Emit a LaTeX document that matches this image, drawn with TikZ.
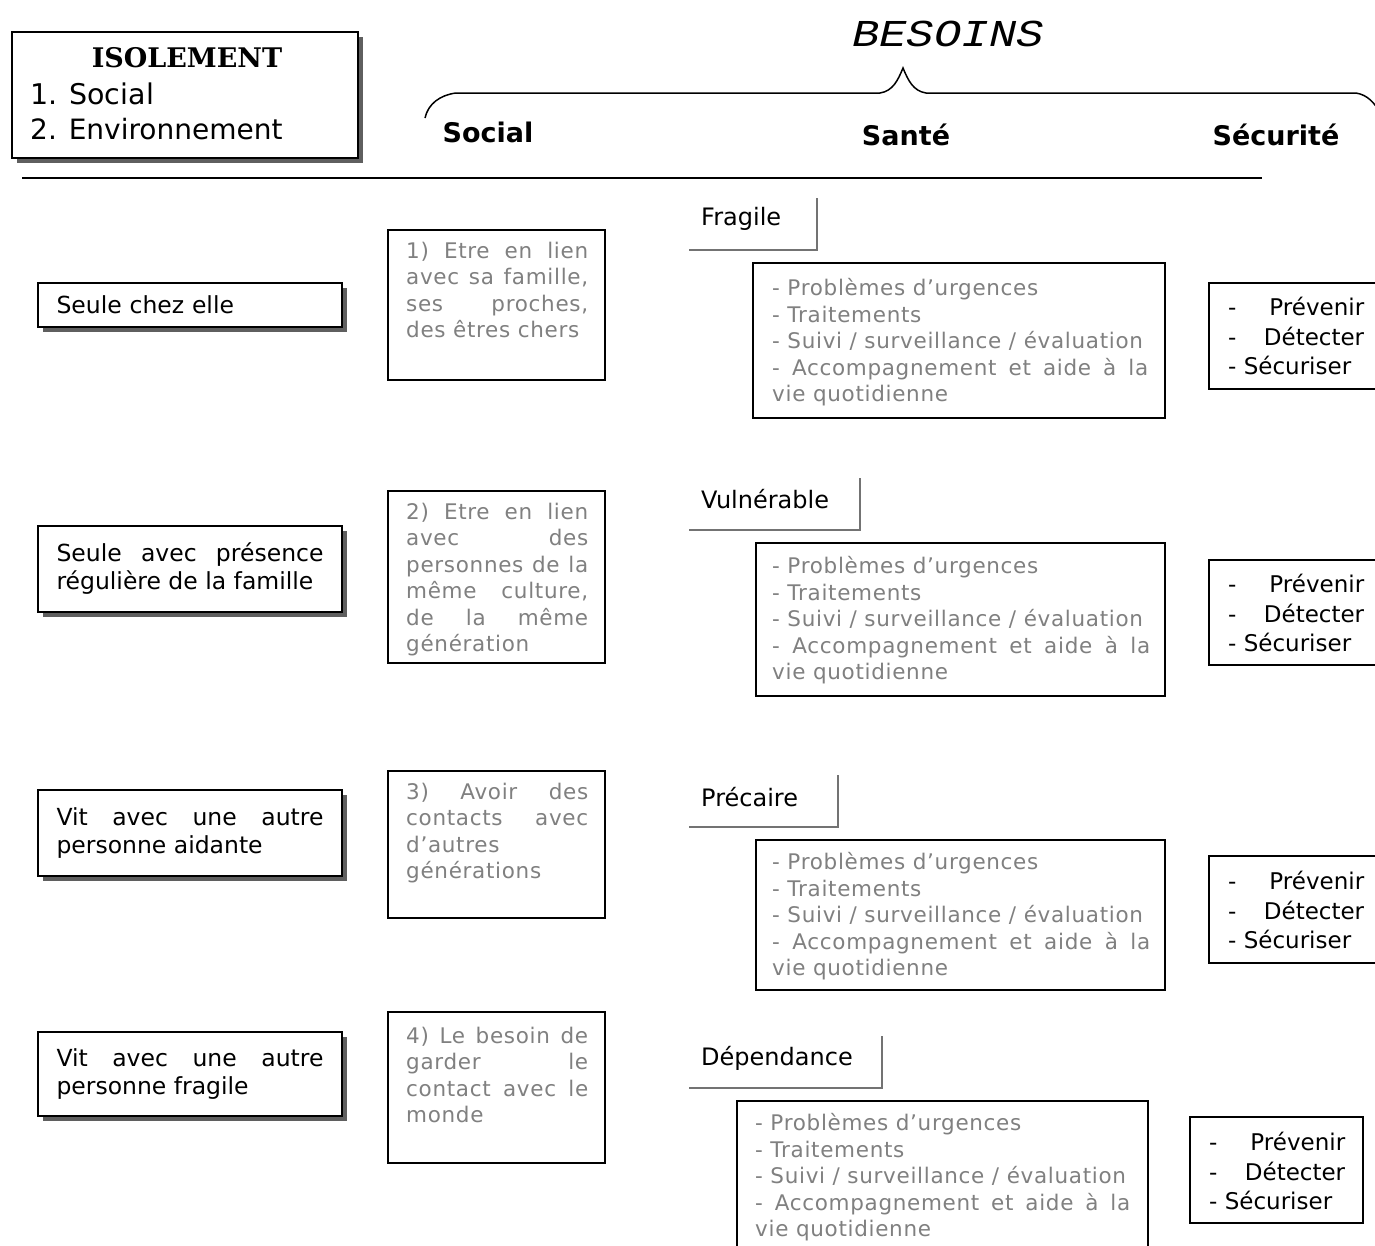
\documentclass[tikz,border=0pt]{standalone}
\usepackage{fontspec}
\setmainfont{DejaVu Sans}
\newfontfamily\dvserif{DejaVu Serif}
\newfontfamily\monoit{Liberation Mono}
\newfontfamily\greyfont{DejaVu Sans}[LetterSpace=3.2]
\usetikzlibrary{shadows}
\definecolor{txtgrey}{RGB}{128,128,128}
\definecolor{shadowgrey}{RGB}{95,95,95}
\definecolor{labelline}{RGB}{115,115,115}
\hyphenpenalty=10000
\exhyphenpenalty=10000
\tikzset{
  leftbox/.style={draw=black, line width=1.8pt, fill=white,
    drop shadow={shadow xshift=5pt, shadow yshift=-5pt, fill=shadowgrey, opacity=1},
    minimum width=304pt, text width=267pt, align=justify,
    font=\fontsize{23.5}{28}\selectfont},
  socbox/.style={draw=black, line width=1.8pt, minimum width=217pt, inner sep=0pt},
  soctext/.style={anchor=north west, inner sep=0pt, text width=182pt, align=justify,
    text=txtgrey, font=\greyfont\fontsize{21.5}{26.4}\selectfont},
  santebox/.style={draw=black, line width=2.2pt, inner sep=0pt},
  santetext/.style={anchor=north west, inner sep=0pt, align=justify,
    text=txtgrey, font=\greyfont\fontsize{21.5}{26.6}\selectfont},
  secbox/.style={draw=black, line width=1.8pt, inner sep=0pt},
  sectext/.style={anchor=west, inner sep=0pt, align=left,
    font=\fontsize{23}{29.5}\selectfont},
  catlabel/.style={anchor=west, inner sep=0pt, font=\fontsize{24}{28}\selectfont},
  catline/.style={draw=labelline, line width=2.6pt},
  headlabel/.style={inner sep=0pt, font=\bfseries\fontsize{27}{32}\selectfont},
}
\newcommand{\secitems}{\hbox to 136pt{-\hfill Prévenir}\\\hbox to 136pt{-\hfill Détecter}\\\hbox to 136pt{- Sécuriser\hfill}}
\newcommand{\santeitems}{- Problèmes d’urgences\newline - Traitements\newline - Suivi / surveillance / évaluation\newline - Accompagnement et aide à la\linebreak vie quotidienne}
\begin{document}
\begin{tikzpicture}[x=1pt,y=-1pt]
\useasboundingbox (0,0) rectangle (1375,1245);
\clip (0,0) rectangle (1375,1245);
\fill[white] (0,0) rectangle (1375,1245);

% ---- header ----
\node[draw=black, line width=1.8pt, fill=white,
  drop shadow={shadow xshift=5pt, shadow yshift=-5pt, fill=shadowgrey, opacity=1},
  minimum width=346pt, minimum height=126pt] (iso) at (185,95) {};
\node[inner sep=0pt, font=\dvserif\bfseries\fontsize{27}{30}\selectfont] (isot) at (187,58) {ISOLEMENT};
\node[anchor=west, inner sep=0pt, font=\fontsize{28.5}{32}\selectfont] (iso1) at (30,94) {1. Social};
\node[anchor=west, inner sep=0pt, font=\fontsize{28}{32}\selectfont] (iso2) at (30,129) {2. Environnement};

\node[inner sep=0pt, font=\monoit\itshape\fontsize{38}{40}\selectfont] (besoins) at (948,34) {\scalebox{1.2}[1]{BESOINS}};
\draw[line width=1.5pt] (425,118) .. controls (428,104) and (440,95) .. (456,93) -- (880,93)
  .. controls (893,91) and (898,80) .. (903,68) .. controls (908,80) and (913,91) .. (926,93)
  -- (1356,93) .. controls (1368,95) and (1374,103) .. (1380,112);
\node[headlabel] (hsoc) at (488,132) {Social};
\node[headlabel] (hsan) at (906,135) {Santé};
\node[headlabel] (hsec) at (1276,135) {Sécurité};
\draw[line width=2pt] (22,178) -- (1262,178);

% ---- left column ----
\node[leftbox, minimum height=44pt, align=left] (l1) at (190,305) {Seule chez elle};
\node[leftbox, minimum height=86pt] (l2) at (190,569) {Seule avec présence\linebreak régulière de la famille};
\node[leftbox, minimum height=86pt] (l3) at (190,833) {Vit avec une autre\linebreak personne aidante};
\node[leftbox, minimum height=84pt] (l4) at (190,1074) {Vit avec une autre\linebreak personne fragile};

% ---- social column ----
\node[socbox, minimum height=150pt] (s1) at (496.5,305) {};
\node[soctext] (s1t) at (406,242) {1) Etre en lien\linebreak avec sa famille,\linebreak ses proches,\linebreak des êtres chers};
\node[socbox, minimum height=172pt] (s2) at (496.5,577) {};
\node[soctext] (s2t) at (406,503) {2) Etre en lien\linebreak avec des\linebreak personnes de la\linebreak même culture,\linebreak de la même\linebreak génération};
\node[socbox, minimum height=147pt] (s3) at (496.5,844.5) {};
\node[soctext] (s3t) at (406,783) {3) Avoir des\linebreak contacts avec\linebreak d’autres\newline générations};
\node[socbox, minimum height=151pt] (s4) at (496.5,1087.5) {};
\node[soctext] (s4t) at (406,1027) {4) Le besoin de\linebreak garder le\linebreak contact avec le\linebreak monde};

% ---- santé column ----
\node[catlabel] (c1) at (701,219) {Fragile};
\draw[catline] (817,198) -- (817,250) -- (689,250);
\node[santebox, minimum width=412pt, minimum height=155pt] (h1) at (959,340.5) {};
\node[santetext, text width=376pt] (h1t) at (772,278) {\santeitems};

\node[catlabel] (c2) at (701,499) {Vulnérable};
\draw[catline] (860,478) -- (860,530) -- (689,530);
\node[santebox, minimum width=409pt, minimum height=153pt] (h2) at (960.5,619.5) {};
\node[santetext, text width=378pt] (h2t) at (772,556) {\santeitems};

\node[catlabel] (c3) at (701,797) {Précaire};
\draw[catline] (838,775) -- (838,827) -- (689,827);
\node[santebox, minimum width=409pt, minimum height=150pt] (h3) at (960.5,915) {};
\node[santetext, text width=378pt] (h3t) at (772,852) {\santeitems};

\node[catlabel] (c4) at (701,1058) {Dépendance};
\draw[catline] (882,1036) -- (882,1088) -- (689,1088);
\node[santebox, minimum width=411pt, minimum height=170pt] (h4) at (942.5,1186) {};
\node[santetext, text width=375pt] (h4t) at (755,1113) {\santeitems};

% ---- sécurité column ----
\node[secbox, minimum width=181pt, minimum height=106pt] (k1) at (1299.5,336) {};
\node[sectext] (k1t) at (1228,336) {\secitems};
\node[secbox, minimum width=181pt, minimum height=105pt] (k2) at (1299.5,612.5) {};
\node[sectext] (k2t) at (1228,613) {\secitems};
\node[secbox, minimum width=181pt, minimum height=107pt] (k3) at (1299.5,909.5) {};
\node[sectext] (k3t) at (1228,910) {\secitems};
\node[secbox, minimum width=173pt, minimum height=106pt] (k4) at (1276.5,1170) {};
\node[sectext] (k4t) at (1209,1171) {\secitems};
\end{tikzpicture}
\end{document}
